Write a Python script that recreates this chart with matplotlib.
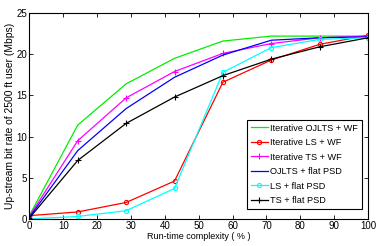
import matplotlib
matplotlib.use("Agg")
import matplotlib.pyplot as plt

plt.rcParams['font.family'] = ['Liberation Sans', 'DejaVu Sans']

x = [0, 14.29, 28.57, 42.86, 57.14, 71.43, 85.71, 100]
ojlts_wf = [0.4, 11.4, 16.4, 19.5, 21.6, 22.2, 22.2, 22.2]
ls_wf = [0.4, 0.85, 2.0, 4.6, 16.6, 19.3, 21.2, 22.3]
ts_wf = [0.3, 9.5, 14.7, 17.9, 20.1, 21.3, 22.0, 22.2]
ojlts_flat = [0.2, 8.3, 13.4, 17.2, 19.9, 21.7, 22.0, 22.1]
ls_flat = [0.0, 0.3, 1.0, 3.7, 17.8, 20.8, 21.8, 22.0]
ts_flat = [0.1, 7.1, 11.6, 14.8, 17.4, 19.4, 20.9, 22.0]

labels = ["Iterative OJLTS + WF", "Iterative LS + WF", "Iterative TS + WF",
          "OJLTS + flat PSD", "LS + flat PSD", "TS + flat PSD"]

fig = plt.figure(figsize=(3.76, 2.46), dpi=100)
ax = fig.add_axes([0.078, 0.110, 0.901, 0.837])
lw = 0.9
ax.plot(x, ojlts_wf, color='#00ee00', lw=lw, label=labels[0])
ax.plot(x, ls_wf, color='red', lw=lw, marker='o', ms=3, mfc='none', mew=0.8, label=labels[1])
ax.plot(x, ts_wf, color='magenta', lw=lw, marker='+', ms=4, mew=0.8, label=labels[2])
ax.plot(x, ojlts_flat, color='blue', lw=lw, label=labels[3])
ax.plot(x, ls_flat, color='cyan', lw=lw, marker='o', ms=3, mfc='none', mew=0.8, label=labels[4])
ax.plot(x, ts_flat, color='black', lw=lw, marker='+', ms=4, mew=0.8, label=labels[5])

ax.set_xlim(0, 100)
ax.set_ylim(0, 25)
ax.set_xticks(range(0, 101, 10))
ax.set_yticks(range(0, 26, 5))
ax.tick_params(direction='in', top=True, right=True, labelsize=7, length=3, width=0.6, pad=1.5)
for s in ax.spines.values():
    s.set_linewidth(0.8)
ax.set_xlabel("Run-time complexity ( % )", fontsize=6.5, labelpad=0.5)
ax.set_ylabel("Up-stream bit rate of 2500 ft user (Mbps)", fontsize=7.4, labelpad=1)

leg = ax.legend(loc='lower right', fontsize=6.6, frameon=True, fancybox=False,
                edgecolor='black', framealpha=1, borderpad=0.4, labelspacing=0.6,
                handlelength=1.9, handletextpad=0.25, borderaxespad=0,
                bbox_to_anchor=(0.982, 0.049))
leg.get_frame().set_linewidth(0.8)

fig.savefig("out.png", dpi=100)
